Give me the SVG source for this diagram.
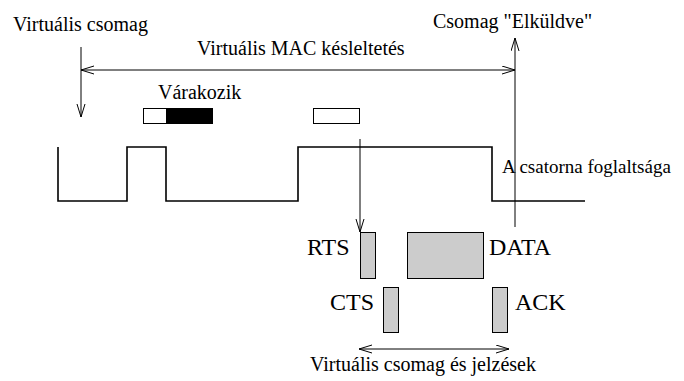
<svg xmlns="http://www.w3.org/2000/svg" width="684" height="381" viewBox="0 0 684 381">
<style>
text{font-family:"Liberation Serif","Times New Roman",serif;fill:#000}
.t20{font-size:20px}
.t24{font-size:24px}
.ln{stroke:#000;stroke-width:1;fill:none}
.wave{stroke:#000;stroke-width:1.6;fill:none}
.pkt{fill:#cccccc;stroke:#000;stroke-width:1}
</style>
<defs>
<marker id="ah" markerUnits="userSpaceOnUse" markerWidth="14" markerHeight="10" refX="13" refY="4.5" orient="auto-start-reverse">
<path d="M0,0.5 L13,4.5 L0,8.5" fill="none" stroke="#000" stroke-width="1"/>
</marker>
</defs>
<g id="connectors">
<line class="ln" x1="81" y1="47" x2="81" y2="117" marker-end="url(#ah)"/>
<line class="ln" x1="81" y1="70" x2="515" y2="70" marker-start="url(#ah)" marker-end="url(#ah)"/>
<line class="ln" x1="515" y1="227" x2="515" y2="38" marker-end="url(#ah)"/>
<line class="ln" x1="360" y1="139" x2="360" y2="232" marker-end="url(#ah)"/>
<line class="ln" x1="359" y1="349" x2="509" y2="349" marker-start="url(#ah)" marker-end="url(#ah)"/>
</g>
<g id="wave">
<path class="wave" d="M58,147 V201 H127 V147 H166 V201 H298 V147 H492 V201 H585"/>
</g>
<g id="labels">
<text class="t20" x="13" y="31">Virtuális csomag</text>
<text class="t20" x="197" y="55">Virtuális MAC késleltetés</text>
<text class="t20" x="433" y="28">Csomag "Elküldve"</text>
<text class="t20" x="158" y="99">Várakozik</text>
<text x="502" y="173" style="font-size:19px">A csatorna foglaltsága</text>
<text class="t20" x="310" y="371">Virtuális csomag és jelzések</text>
</g>
<g id="wait">
<rect x="143.5" y="108.5" width="69" height="15" fill="#fff" stroke="#000" stroke-width="1"/>
<rect x="166" y="108.5" width="46.5" height="15" fill="#000"/>
</g>
<g id="pending">
<rect x="313.5" y="108.5" width="46" height="15" fill="#fff" stroke="#000" stroke-width="1"/>
</g>
<g id="rts">
<rect class="pkt" x="360.5" y="232.5" width="15" height="46"/>
<text class="t24" x="307" y="255">RTS</text>
</g>
<g id="data">
<rect class="pkt" x="407.5" y="232.5" width="76" height="46"/>
<text class="t24" x="489" y="255">DATA</text>
</g>
<g id="cts">
<rect class="pkt" x="383.5" y="287.5" width="15" height="45"/>
<text class="t24" x="330" y="310">CTS</text>
</g>
<g id="ack">
<rect class="pkt" x="492.5" y="287.5" width="15" height="45"/>
<text class="t24" x="515" y="310">ACK</text>
</g>
</svg>
